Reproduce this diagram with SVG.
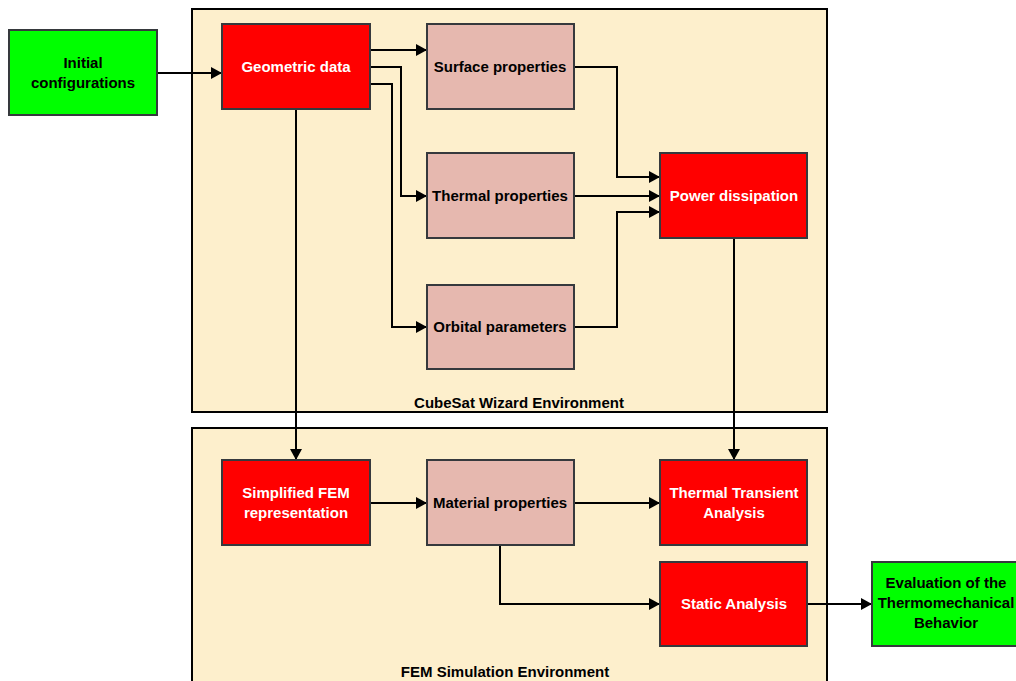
<svg xmlns="http://www.w3.org/2000/svg" width="1016" height="681" viewBox="0 0 1016 681">
<defs>
<style>
.env{fill:#fdefcc;stroke:#000;stroke-width:2}
.red{fill:#ff0000;stroke:#36393d;stroke-width:2}
.pink{fill:#e6b8af;stroke:#36393d;stroke-width:2}
.green{fill:#00ff00;stroke:#36393d;stroke-width:2}
text{font-family:"Liberation Sans",Arial,sans-serif;font-weight:bold;font-size:15px;text-anchor:middle}
.w{fill:#fff}
.b{fill:#000}
.c{fill:none;stroke:#000;stroke-width:2;marker-end:url(#ah)}
</style>
<marker id="ah" markerUnits="userSpaceOnUse" markerWidth="12" markerHeight="12" refX="11" refY="6" orient="auto">
<path d="M0,0 L11,6 L0,12 Z" fill="#000"/>
</marker>
</defs>
<rect width="1016" height="681" fill="#fff"/>
<g id="env-cubesat">
<rect class="env" x="192" y="9" width="635" height="403"/>
<text class="b" x="519" y="408">CubeSat Wizard Environment</text>
</g>
<g id="env-fem">
<rect class="env" x="192" y="428" width="635" height="262"/>
<text class="b" x="505" y="677">FEM Simulation Environment</text>
</g>
<g id="connectors">
<path class="c" d="M157,73 L222,73"/>
<path class="c" d="M370,50 L427,50"/>
<path class="c" d="M370,67 L401,67 L401,196 L427,196"/>
<path class="c" d="M370,84 L392,84 L392,327 L427,327"/>
<path class="c" d="M574,67 L617,67 L617,177 L660,177"/>
<path class="c" d="M574,196 L660,196"/>
<path class="c" d="M574,327 L617,327 L617,212 L660,212"/>
<path class="c" d="M296,109 L296,460"/>
<path class="c" d="M734,238 L734,460"/>
<path class="c" d="M370,503 L427,503"/>
<path class="c" d="M574,503 L660,503"/>
<path class="c" d="M500,545 L500,604 L660,604"/>
<path class="c" d="M807,604 L872,604"/>
</g>
<g id="initial">
<rect class="green" x="9" y="30" width="148" height="85"/>
<text class="b" x="83" y="68">Initial</text>
<text class="b" x="83" y="88">configurations</text>
</g>
<g id="geometric">
<rect class="red" x="222" y="24" width="148" height="85"/>
<text class="w" x="296" y="72">Geometric data</text>
</g>
<g id="surface">
<rect class="pink" x="427" y="24" width="147" height="85"/>
<text class="b" x="500" y="72">Surface properties</text>
</g>
<g id="thermal">
<rect class="pink" x="427" y="153" width="147" height="85"/>
<text class="b" x="500" y="201">Thermal properties</text>
</g>
<g id="orbital">
<rect class="pink" x="427" y="285" width="147" height="84"/>
<text class="b" x="500" y="332">Orbital parameters</text>
</g>
<g id="power">
<rect class="red" x="660" y="153" width="147" height="85"/>
<text class="w" x="734" y="201">Power dissipation</text>
</g>
<g id="simplified">
<rect class="red" x="222" y="460" width="148" height="85"/>
<text class="w" x="296" y="498">Simplified FEM</text>
<text class="w" x="296" y="518">representation</text>
</g>
<g id="material">
<rect class="pink" x="427" y="460" width="147" height="85"/>
<text class="b" x="500" y="508">Material properties</text>
</g>
<g id="transient">
<rect class="red" x="660" y="460" width="147" height="85"/>
<text class="w" x="734" y="498">Thermal Transient</text>
<text class="w" x="734" y="518">Analysis</text>
</g>
<g id="static">
<rect class="red" x="660" y="562" width="147" height="84"/>
<text class="w" x="734" y="609">Static Analysis</text>
</g>
<g id="evaluation">
<rect class="green" x="872" y="562" width="148" height="84"/>
<text class="b" x="946" y="588">Evaluation of the</text>
<text class="b" x="946" y="608">Thermomechanical</text>
<text class="b" x="946" y="628">Behavior</text>
</g>
</svg>
